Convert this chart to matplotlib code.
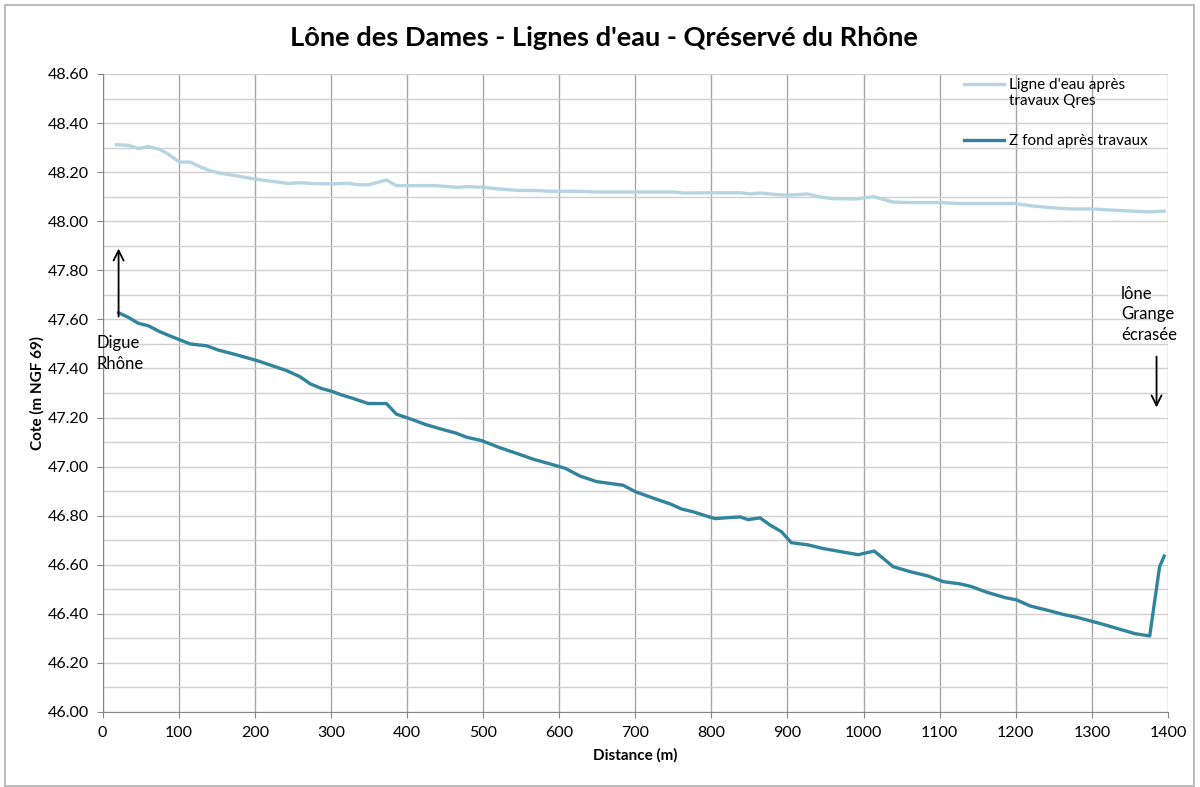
import matplotlib
matplotlib.use("Agg")
import matplotlib.pyplot as plt
from matplotlib.ticker import MultipleLocator, FormatStrFormatter

plt.rcParams['font.family'] = ['Lato', 'DejaVu Sans']

# Water line after works (Qres)
dist_eau = [18, 34, 47, 60, 75, 86, 101, 115, 128, 141, 156, 172, 200, 216, 244, 259, 281, 301,
            323, 334, 349, 373, 386, 437, 467, 478, 500, 522, 548, 570, 588, 627, 649, 702, 750,
            763, 802, 838, 851, 864, 877, 899, 927, 943, 960, 991, 1013, 1039, 1061, 1100, 1126,
            1162, 1199, 1223, 1247, 1271, 1300, 1328, 1354, 1376, 1395]
z_eau = [48.312, 48.309, 48.296, 48.304, 48.293, 48.274, 48.241, 48.241, 48.222, 48.206, 48.195,
         48.187, 48.172, 48.165, 48.154, 48.157, 48.153, 48.152, 48.155, 48.149, 48.148, 48.168,
         48.145, 48.145, 48.138, 48.141, 48.138, 48.131, 48.125, 48.125, 48.122, 48.122, 48.119,
         48.119, 48.119, 48.115, 48.116, 48.116, 48.111, 48.115, 48.111, 48.106, 48.111, 48.098,
         48.092, 48.091, 48.100, 48.078, 48.076, 48.076, 48.072, 48.072, 48.072, 48.062, 48.055,
         48.050, 48.050, 48.045, 48.041, 48.038, 48.041]

# Bed level after works
dist_fond = [21, 34, 47, 60, 75, 89, 102, 115, 137, 152, 172, 203, 224, 242, 259, 273, 288, 301,
             314, 329, 349, 373, 386, 402, 426, 446, 465, 478, 498, 522, 544, 566, 588, 608, 627,
             649, 684, 700, 724, 746, 761, 776, 789, 805, 822, 838, 848, 864, 877, 892, 905, 927,
             947, 969, 993, 1014, 1039, 1061, 1085, 1105, 1127, 1142, 1162, 1186, 1201, 1219,
             1245, 1262, 1280, 1302, 1315, 1337, 1357, 1376, 1389, 1395]
z_fond = [47.627, 47.608, 47.584, 47.574, 47.550, 47.532, 47.516, 47.500, 47.492, 47.475, 47.459,
          47.432, 47.410, 47.391, 47.367, 47.337, 47.318, 47.307, 47.292, 47.278, 47.257, 47.257,
          47.214, 47.197, 47.170, 47.152, 47.136, 47.120, 47.106, 47.077, 47.054, 47.030, 47.011,
          46.993, 46.962, 46.939, 46.924, 46.898, 46.871, 46.848, 46.827, 46.816, 46.803, 46.788,
          46.792, 46.795, 46.784, 46.791, 46.762, 46.735, 46.690, 46.681, 46.666, 46.654, 46.641,
          46.656, 46.592, 46.572, 46.554, 46.531, 46.522, 46.511, 46.488, 46.466, 46.457, 46.432,
          46.412, 46.398, 46.386, 46.368, 46.357, 46.337, 46.319, 46.310, 46.592, 46.635]

label_eau = "Ligne d'eau après\ntravaux Qres"
label_fond = "Z fond après travaux"
title = "Lône des Dames - Lignes d'eau - Qréservé du Rhône"

fig = plt.figure(figsize=(12, 7.87), dpi=100)
ax = fig.add_axes([0.0855, 0.0953, 0.8878, 0.8107])

# outer chart border
fig.patches.append(plt.Rectangle((0.0045, 0.0015), 0.9905, 0.992, transform=fig.transFigure,
                                 fill=False, edgecolor='#b0b0b0', linewidth=1.2))

ax.plot(dist_eau, z_eau, color='#B7D5E0', linewidth=2.4, label=label_eau, zorder=3)
ax.plot(dist_fond, z_fond, color='#31849B', linewidth=2.4, label=label_fond, zorder=3)

ax.set_xlim(0, 1400)
ax.set_ylim(46.0, 48.6)
ax.xaxis.set_major_locator(MultipleLocator(100))
ax.yaxis.set_major_locator(MultipleLocator(0.2))
ax.yaxis.set_minor_locator(MultipleLocator(0.1))
ax.yaxis.set_major_formatter(FormatStrFormatter('%.2f'))
ax.grid(True, which='major', axis='x', color='#a6a6a6', linewidth=1.0)
ax.grid(True, which='both', axis='y', color='#d0d0d0', linewidth=1.0)
ax.set_axisbelow(True)
for s in ['top', 'right']:
    ax.spines[s].set_visible(False)
for s in ['left', 'bottom']:
    ax.spines[s].set_color('#868686')
ax.tick_params(axis='both', which='major', labelsize=11.5, length=4, color='#868686', pad=6)
ax.tick_params(axis='y', which='minor', length=0)

ax.set_xlabel('Distance (m)', fontsize=11, fontweight='bold', labelpad=6)
ax.set_ylabel('Cote (m NGF 69)', fontsize=11, fontweight='bold', labelpad=2)
fig.suptitle(title, fontsize=19.6, fontweight='bold', x=0.503, y=0.952, va='center')

leg = ax.legend(loc='upper left', bbox_to_anchor=(0.796, 1.016), frameon=False,
                fontsize=11, handlelength=2.6, handletextpad=0.3, labelspacing=1.72)
# align the first handle with the first text line (as in the original)
h0 = leg.legend_handles[0]
h0.set_ydata([v + 6 for v in h0.get_ydata()])

# annotations
ax.annotate('', xy=(21, 47.90), xytext=(21, 47.60),
            arrowprops=dict(arrowstyle='->', color='black', lw=1.3, mutation_scale=18))
ax.text(-8, 47.46, 'Digue\nRhône', fontsize=12, ha='left', va='center', linespacing=1.35,
        clip_on=False)
ax.annotate('', xy=(1385, 47.23), xytext=(1385, 47.46),
            arrowprops=dict(arrowstyle='->', color='black', lw=1.3, mutation_scale=18))
ax.text(1338, 47.62, 'lône\nGrange\nécrasée', fontsize=12, ha='left', va='center',
        linespacing=1.35, clip_on=False)

fig.savefig('out.png', dpi=100)
